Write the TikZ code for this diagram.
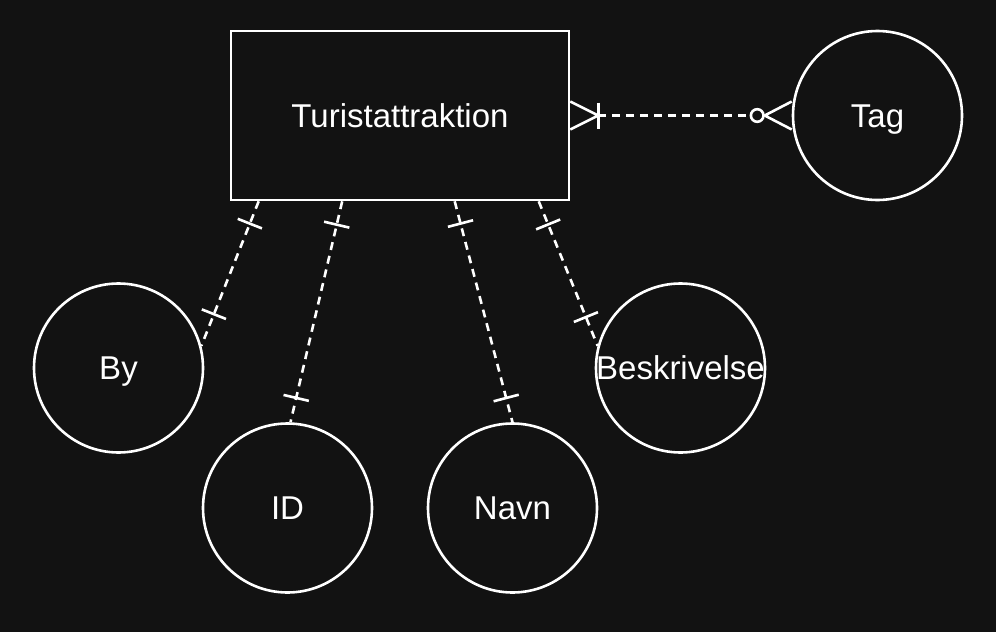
\documentclass[tikz,border=0pt]{standalone}
\usepackage{fontspec}
\setmainfont{Liberation Sans}
\usetikzlibrary{calc,decorations.markings}
\definecolor{bg}{HTML}{121212}
\begin{document}
\begin{tikzpicture}[x=1pt,y=-1pt,line width=2.6pt,
  every node/.style={text=white,font=\fontsize{33}{38}\selectfont,text depth=0pt,text height=23.5pt},
  ent/.style={draw=white,fill=bg,minimum width=338pt,minimum height=169pt,inner sep=0pt},
  attr/.style={circle,draw=white,fill=bg,minimum size=169pt,inner sep=0pt},
  rel/.style={draw=white,dash pattern=on 8pt off 6pt},
  bars/.style 2 args={postaction={decorate},decoration={markings,
    mark=at position #1 with {\draw[white,solid,line width=2.6pt] (0pt,-13pt) -- (0pt,13pt);},
    mark=at position #2 with {\draw[white,solid,line width=2.6pt] (0pt,-13pt) -- (0pt,13pt);}}}
]
\fill[bg] (0,0) rectangle (996,632);
\useasboundingbox (0,0) rectangle (996,632);

\node[ent] (t) at (400,115.5) {Turistattraktion};
\node[attr] (tag) at (877.5,115.5) {Tag};
\node[attr] (by) at (118.5,368) {By};
\node[attr] (id) at (287.5,508) {ID};
\node[attr] (navn) at (512.5,508) {Navn};
\node[attr] (besk) at (680.5,368) {\makebox[0pt]{Beskrivelse}};

% attribute relations
\draw[rel,bars={24pt}{-34pt}] ($(t.south west)+(29,0)$) -- (by.15);
\draw[rel,bars={24pt}{-25pt}] ($(t.south west)+(112.5,0)$) -- (id.88);
\draw[rel,bars={23pt}{-25pt}] ($(t.south west)+(225,0)$) -- (navn.90);
\draw[rel,bars={25pt}{-31pt}] ($(t.south west)+(309,0)$) -- (besk.165);

% tag relation
\draw[rel,shorten <=28pt,shorten >=41pt] (t.east) -- (tag.west);
\draw[white] ($(t.east)+(0,-14)$) -- ($(t.east)+(28,0)$) -- ($(t.east)+(0,14)$);
\draw[white] ($(t.east)+(28,-13)$) -- ($(t.east)+(28,13)$);
\draw[white] ($(tag.west)+(0,-14)$) -- ($(tag.west)+(-27,0)$) -- ($(tag.west)+(0,14)$);
\draw[white,fill=bg] ($(tag.west)+(-34.5,0)$) circle (6.3);
\end{tikzpicture}
\end{document}
